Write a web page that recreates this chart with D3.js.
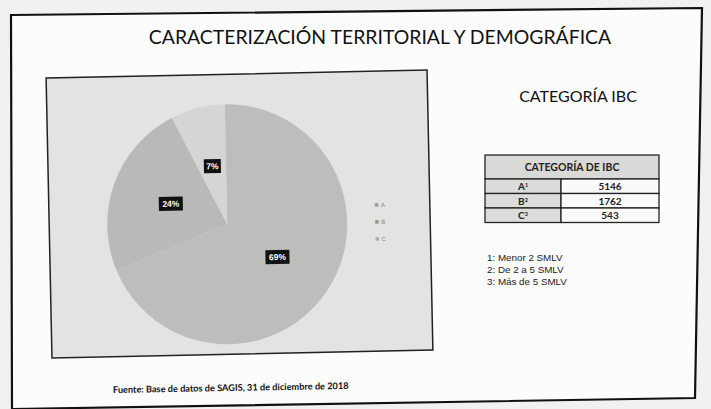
<!DOCTYPE html>
<html>
<head>
<meta charset="utf-8">
<script src="https://cdn.jsdelivr.net/npm/d3@7"></script>
<style>
  body { margin: 0; background: #f2f1f0; }
  svg { display: block; }
</style>
</head>
<body>
<svg id="slide" width="711" height="409"></svg>
<script>
// data
const categories = ["A", "B", "C"];
const superscripts = ["1", "2", "3"];
const counts = [5146, 1762, 543];
const notes = ["1: Menor 2 SMLV", "2: De 2 a 5 SMLV", "3: Más de 5 SMLV"];

const svg = d3.select("#slide");

// slide frame (photo is a bit skewed)
svg.append("path")
    .attr("d", "M11,15 L702,8 L695,398 L12,409 Z")
    .attr("fill", "#fcfcfc")
    .attr("stroke", "#111")
    .attr("stroke-width", 2.2);

svg.append("text")
    .attr("x", 380)
    .attr("y", 44)
    .attr("text-anchor", "middle")
    .style("font-family", "Lato, 'Open Sans', sans-serif")
    .style("font-size", "19.4px")
    .attr("fill", "#111")
    .text("CARACTERIZACIÓN TERRITORIAL Y DEMOGRÁFICA");

// chart box, tilted like the photo
let chart = svg.append("g")
    .attr("transform", "rotate(-1.2, 240, 214)");

chart.append("rect")
    .attr("x", 49)
    .attr("y", 74)
    .attr("width", 381)
    .attr("height", 280)
    .attr("fill", "#e3e3e2")
    .attr("stroke", "#222")
    .attr("stroke-width", 1.5);

let radius = 120;
let pieG = chart.append("g")
    .attr("transform", "translate(227,224)");

let color = d3.scaleOrdinal()
    .domain(categories)
    .range(["#bdbdbc", "#b9b9b8", "#d5d5d4"]);

let total = d3.sum(counts);
let pie = d3.pie().sort(null);
let arcs = pie(counts);
let arc = d3.arc().innerRadius(0).outerRadius(radius);
let labelArc = d3.arc().innerRadius(radius * 0.5).outerRadius(radius * 0.5);

pieG.selectAll("path")
    .data(arcs)
    .join("path")
    .attr("d", arc)
    .attr("fill", (d, i) => color(categories[i]));

let labels = pieG.selectAll("g.lbl")
    .data(arcs)
    .join("g")
    .attr("class", "lbl")
    .attr("transform", d => `translate(${labelArc.centroid(d)})`);

labels.append("rect")
    .attr("x", (d, i) => i == 2 ? -8.5 : -12)
    .attr("y", -7)
    .attr("width", (d, i) => i == 2 ? 17 : 24)
    .attr("height", 14)
    .attr("fill", "#111");

labels.append("text")
    .attr("text-anchor", "middle")
    .attr("dy", "0.35em")
    .attr("fill", "#fff")
    .style("font-family", "'Liberation Sans', Arial, sans-serif")
    .style("font-weight", "bold")
    .style("font-size", "8.5px")
    .text(d => Math.round(d.value / total * 100) + "%");

// legend
let legend = chart.selectAll("g.leg")
    .data(categories)
    .join("g")
    .attr("class", "leg")
    .attr("transform", (d, i) => `translate(375,${209 + i * 17})`);

legend.append("rect")
    .attr("x", 0)
    .attr("y", -3)
    .attr("width", 3.5)
    .attr("height", 3.5)
    .attr("fill", d => d3.color(color(d)).darker(0.6));

legend.append("text")
    .attr("x", 6)
    .attr("y", 1)
    .attr("fill", "#8a8a8a")
    .style("font-family", "'Liberation Sans', Arial, sans-serif")
    .style("font-size", "6px")
    .text(d => d);

// right side: heading + table
svg.append("text")
    .attr("x", 578)
    .attr("y", 102)
    .attr("text-anchor", "middle")
    .style("font-family", "Lato, 'Open Sans', sans-serif")
    .style("font-size", "16px")
    .attr("fill", "#111")
    .text("CATEGORÍA IBC");

let tableX = 485, tableW = 174, splitX = 561;
let headH = 24, rowH = 14.5, tableY = 155;

let row = d3.scaleBand()
    .domain(categories)
    .range([tableY + headH, tableY + headH + rowH * categories.length]);

let table = svg.append("g");

table.append("rect")
    .attr("x", tableX)
    .attr("y", tableY)
    .attr("width", tableW)
    .attr("height", headH)
    .attr("fill", "#d9d9d8")
    .attr("stroke", "#222")
    .attr("stroke-width", 1.3);

table.append("text")
    .attr("x", tableX + tableW / 2)
    .attr("y", tableY + headH / 2)
    .attr("dy", "0.35em")
    .attr("text-anchor", "middle")
    .style("font-family", "Lato, 'Open Sans', sans-serif")
    .style("font-weight", "bold")
    .style("font-size", "10.5px")
    .attr("fill", "#222")
    .text("CATEGORÍA DE IBC");

let rows = table.selectAll("g.row")
    .data(categories)
    .join("g")
    .attr("class", "row");

rows.append("rect")
    .attr("x", tableX)
    .attr("y", d => row(d))
    .attr("width", splitX - tableX)
    .attr("height", row.bandwidth())
    .attr("fill", "#dcdcdb")
    .attr("stroke", "#222")
    .attr("stroke-width", 1.3);

rows.append("rect")
    .attr("x", splitX)
    .attr("y", d => row(d))
    .attr("width", tableX + tableW - splitX)
    .attr("height", row.bandwidth())
    .attr("fill", "#fafafa")
    .attr("stroke", "#222")
    .attr("stroke-width", 1.3);

let catText = rows.append("text")
    .attr("x", (tableX + splitX) / 2)
    .attr("y", d => row(d) + row.bandwidth() / 2)
    .attr("dy", "0.38em")
    .attr("text-anchor", "middle")
    .style("font-family", "Lato, 'Open Sans', sans-serif")
    .style("font-weight", "bold")
    .style("font-size", "10px")
    .attr("fill", "#222");

catText.append("tspan").text(d => d);
catText.append("tspan")
    .attr("dy", "-0.5em")
    .style("font-size", "5.5px")
    .text((d, i) => superscripts[i]);

rows.append("text")
    .attr("x", (splitX + tableX + tableW) / 2)
    .attr("y", d => row(d) + row.bandwidth() / 2)
    .attr("dy", "0.38em")
    .attr("text-anchor", "middle")
    .style("font-family", "Lato, 'Open Sans', sans-serif")
    .style("font-weight", "bold")
    .style("font-size", "10px")
    .attr("fill", "#222")
    .text((d, i) => counts[i]);

// footnotes
svg.selectAll("text.note")
    .data(notes)
    .join("text")
    .attr("class", "note")
    .attr("x", 487)
    .attr("y", (d, i) => 261 + i * 12)
    .style("font-family", "'Liberation Sans', Arial, sans-serif")
    .style("font-size", "9.8px")
    .attr("fill", "#222")
    .text(d => d);

svg.append("text")
    .attr("x", 113)
    .attr("y", 393)
    .attr("transform", "rotate(-1, 113, 393)")
    .style("font-family", "Lato, 'Open Sans', sans-serif")
    .style("font-weight", "bold")
    .style("font-size", "9.2px")
    .attr("fill", "#111")
    .text("Fuente: Base de datos de SAGIS, 31 de diciembre de 2018");
</script>
</body>
</html>
